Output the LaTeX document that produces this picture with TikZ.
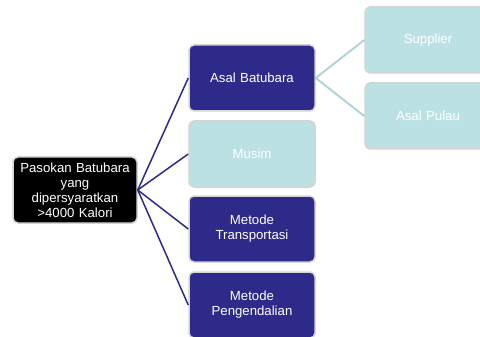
\documentclass[tikz,border=0pt]{standalone}
\usepackage{fontspec}
\setmainfont{Liberation Sans}
\definecolor{navy}{HTML}{2D2A8A}
\definecolor{teal}{HTML}{BCE1E4}
\definecolor{tealline}{HTML}{A8D2D5}
\definecolor{rim}{HTML}{D4D4D4}
\begin{document}
\begin{tikzpicture}[x=1pt,y=-1pt,
  box/.style={draw=rim,line width=1.5pt,rounded corners=5pt,minimum height=66pt,
    text=white,font=\fontsize{13.2}{15}\selectfont,align=center,inner sep=2pt},
  rootbox/.style={box,fill=black,minimum width=124pt,text width=118pt},
  navybox/.style={box,fill=navy,minimum width=126pt,text width=118pt},
  tealbox/.style={box,fill=teal,minimum width=126pt,text width=118pt},
  darklink/.style={draw=navy,line width=1.5pt},
  lightlink/.style={draw=tealline,line width=1.8pt}]
\useasboundingbox (0,0) rectangle (480,337);
\clip (0,0) rectangle (480,337);
\node[rootbox] (root) at (75,190) {Pasokan Batubara\\yang\\dipersyaratkan\\>4000 Kalori};
\node[navybox] (asal) at (252,78) {Asal Batubara};
\node[tealbox] (musim) at (252,154) {Musim};
\node[navybox] (trans) at (252,229) {Metode\\Transportasi};
\node[navybox] (peng) at (252,305) {Metode\\Pengendalian};
\node[tealbox] (supp) at (428,40) {Supplier};
\node[tealbox] (pulau) at (428,116) {Asal Pulau};
\foreach \t in {asal,musim,trans,peng} \draw[darklink] (root.east) -- (\t.west);
\draw[lightlink] (asal.east) -- (supp.west);
\draw[lightlink] (asal.east) -- (pulau.west);
\end{tikzpicture}
\end{document}
